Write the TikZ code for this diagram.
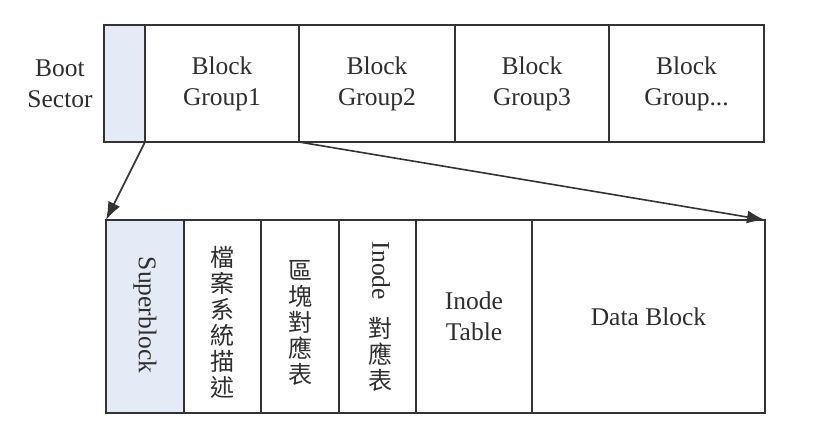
\documentclass[tikz,border=0pt]{standalone}
\usepackage{fontspec}
\setmainfont{Liberation Serif}
\newfontfamily\cjk{Noto Sans CJK TC}
\usetikzlibrary{arrows.meta}
\definecolor{ln}{HTML}{333333}
\definecolor{tx}{HTML}{2E2E2E}
\definecolor{sb}{HTML}{E4EAF6}
\tikzset{
  cell/.style={draw=ln, line width=2pt, inner sep=0pt, outer sep=0pt, text=tx, align=center,
    font=\fontsize{25.5}{31}\selectfont},
  topcell/.style={cell, minimum height=117pt},
  botcell/.style={cell, minimum height=193pt},
  lbl/.style={text=tx, align=center, inner sep=0pt, font=\fontsize{25.5}{31}\selectfont},
  cjkv/.style={text=tx, align=center, inner sep=0pt, font=\cjk\fontsize{24}{26}\selectfont},
  conn/.style={draw=ln, line width=1.6pt, -{Latex[length=18pt,width=13pt]}}
}
\begin{document}
\begin{tikzpicture}[x=1pt,y=-1pt]
\useasboundingbox (0,0) rectangle (830,430);
% top row
\node[topcell, fill=sb, minimum width=41pt] (boot) at (124.5,83.5) {};
\node[topcell, minimum width=154pt] (bg1) at (222,83.5) {Block\\Group1};
\node[topcell, minimum width=156pt] (bg2) at (377,83.5) {Block\\Group2};
\node[topcell, minimum width=154pt] (bg3) at (532,83.5) {Block\\Group3};
\node[topcell, minimum width=155pt] (bg4) at (686.5,83.5) {Block\\Group...};
\node[lbl] (bootlbl) at (60,84) {Boot\\Sector};
% bottom row
\node[botcell, fill=sb, minimum width=78pt] (sb) at (145,316.5) {};
\node[botcell, minimum width=77pt] (fs) at (222.5,316.5) {};
\node[botcell, minimum width=78pt] (bm) at (300,316.5) {};
\node[botcell, minimum width=77pt] (im) at (377.5,316.5) {};
\node[botcell, minimum width=116pt] (it) at (474,316.5) {Inode\\Table};
\node[botcell, minimum width=233pt] (db) at (648.5,316.5) {Data Block};
% vertical texts
\node[lbl, rotate=-90] (sbt) at (145,315) {Superblock};
\node[cjkv] (fst) at (222,322) {檔\\案\\系\\統\\描\\述};
\node[cjkv] (bmt) at (300,323) {區\\塊\\對\\應\\表};
\node[lbl, rotate=-90] (imt1) at (381,271) {Inode};
\node[cjkv] (imt2) at (380,354) {對\\應\\表};
% connectors
\draw[conn] (boot.south east) -- (sb.north west);
\draw[conn] (bg1.south east) -- (db.north east);
\end{tikzpicture}
\end{document}
